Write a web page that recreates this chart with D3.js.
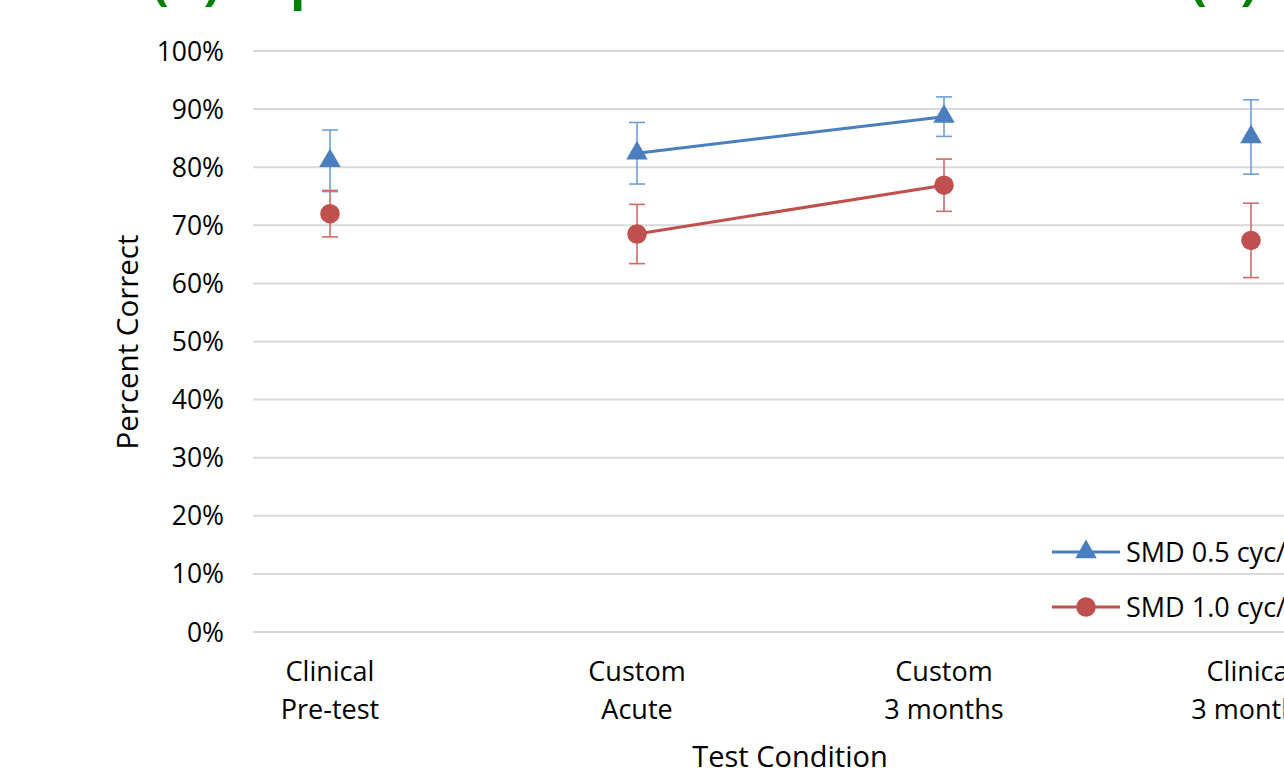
<!DOCTYPE html>
<html><head><meta charset="utf-8">
<script src="https://cdn.jsdelivr.net/npm/d3@7"></script>
<style>body{margin:0;background:#fff}svg{display:block}text{font-family:"Open Sans","Noto Sans",sans-serif}</style>
</head><body><svg id="c" width="1284" height="768"></svg>
<script>
const categories = [["Clinical","Pre-test"],["Custom","Acute"],["Custom","3 months"],["Clinical","3 months"]];
const seriesNames = ["SMD 0.5 cyc/deg","SMD 1.0 cyc/deg"];
const seriesColors = ["#4a7ebf","#c0504d"];
const errColors = ["#6f9fd8","#cf6b68"];
const blueValues = [81.1, 82.4, 88.7, 85.2];
const blueErrors = [5.3, 5.3, 3.4, 6.4];
const redValues = [72.0, 68.5, 76.9, 67.4];
const redErrors = [4.0, 5.1, 4.5, 6.4];
const connectedIdx = [1, 2];
const yTicks = [0,10,20,30,40,50,60,70,80,90,100];

const svg = d3.select("#c");
const x = d3.scalePoint().domain(d3.range(categories.length)).range([330, 1251]);
const y = d3.scaleLinear().domain([0,100]).range([632, 51]);

svg.append("g").selectAll("line").data(yTicks).join("line")
  .attr("x1",253).attr("x2",1284).attr("y1",d=>y(d)).attr("y2",d=>y(d))
  .attr("stroke","#d9d9d9").attr("stroke-width",2);

svg.append("g").selectAll("text").data(yTicks).join("text")
  .attr("x",224).attr("y",d=>y(d)).attr("dy","0.36em").attr("text-anchor","end")
  .attr("font-size",26.5).attr("fill","#000").text(d=>d+"%");

categories.forEach((c,i)=>{
  c.forEach((t,j)=>{
    svg.append("text").attr("x",x(i)).attr("y",671+38*j).attr("dy","0.36em")
      .attr("text-anchor","middle").attr("font-size",27).text(t);
  });
});

svg.append("text").attr("transform","translate(127,342) rotate(-90)").attr("dy","0.36em")
  .attr("text-anchor","middle").attr("font-size",29.5).text("Percent Correct");
svg.append("text").attr("x",790).attr("y",757).attr("dy","0.36em")
  .attr("text-anchor","middle").attr("font-size",29).text("Test Condition");

const gf = "'Liberation Sans',Arial,sans-serif";
svg.append("text").attr("x",152).attr("y",-1).attr("font-size",50).attr("font-weight","bold")
  .attr("fill","#008000").attr("font-family",gf).text("(A)");
svg.append("text").attr("x",290).attr("y",-1).attr("font-size",50).attr("font-weight","bold")
  .attr("fill","#008000").attr("font-family",gf).text("p");
svg.append("text").attr("x",1190).attr("y",-1).attr("font-size",50).attr("font-weight","bold")
  .attr("fill","#008000").attr("font-family",gf).text("(B)");

const series = [
  {vals: blueValues, errs: blueErrors, shape: d3.symbolTriangle},
  {vals: redValues, errs: redErrors, shape: d3.symbolCircle}
];

series.forEach((s,k)=>{
  const g = svg.append("g");
  const line = d3.line().x(i=>x(i)).y(i=>y(s.vals[i]));
  g.append("path").attr("d",line(connectedIdx)).attr("fill","none")
    .attr("stroke",seriesColors[k]).attr("stroke-width",3);
  s.vals.forEach((v,i)=>{
    const e = s.errs[i], cx = x(i);
    g.append("line").attr("x1",cx).attr("x2",cx).attr("y1",y(v+e)).attr("y2",y(v-e))
      .attr("stroke",errColors[k]).attr("stroke-width",1.6);
    [v+e, v-e].forEach(yy=>{
      g.append("line").attr("x1",cx-8).attr("x2",cx+8).attr("y1",y(yy)).attr("y2",y(yy))
        .attr("stroke",errColors[k]).attr("stroke-width",1.6);
    });
  });
  g.selectAll("path.m").data(s.vals).join("path").attr("class","m")
    .attr("d",d3.symbol().type(s.shape).size(k===0?200:300))
    .attr("transform",(v,i)=>`translate(${x(i)},${y(v)})`)
    .attr("fill",seriesColors[k]);
});

const legY = [552, 607];
seriesNames.forEach((n,k)=>{
  const g = svg.append("g");
  g.append("line").attr("x1",1052).attr("x2",1120).attr("y1",legY[k]).attr("y2",legY[k])
    .attr("stroke",seriesColors[k]).attr("stroke-width",3);
  g.append("path").attr("d",d3.symbol().type(series[k].shape).size(k===0?200:300))
    .attr("transform",`translate(1086,${legY[k]})`).attr("fill",seriesColors[k]);
  g.append("text").attr("x",1126).attr("y",legY[k]).attr("dy","0.36em").attr("font-size",27).text(n);
});
</script></body></html>
